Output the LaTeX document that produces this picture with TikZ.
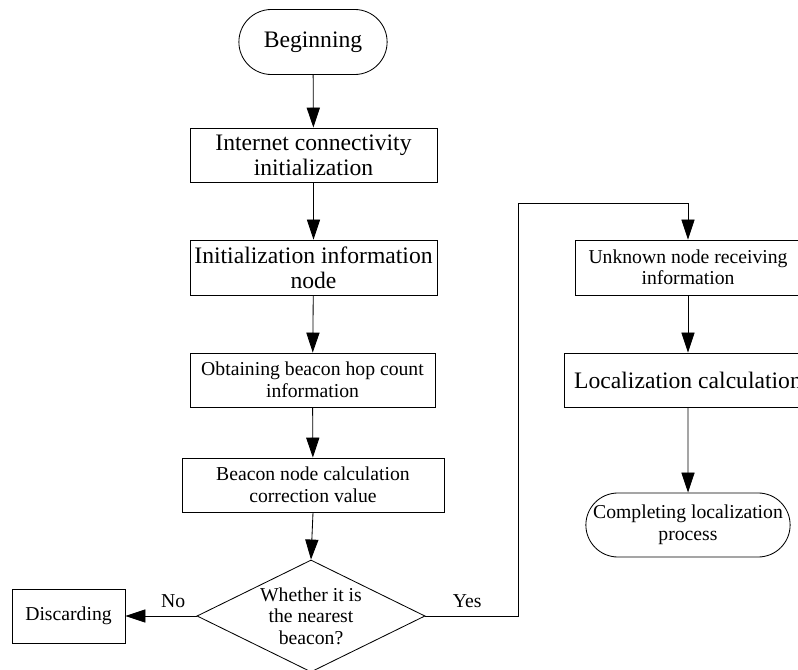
\documentclass[tikz,border=0pt]{standalone}
\usepackage{fontspec}
\setmainfont{Liberation Serif}
\usetikzlibrary{arrows.meta,shapes.geometric,shapes.misc}

\begin{document}
\begin{tikzpicture}[
  x=0.025cm, y=-0.025cm,
  line width=0.6pt,
  bigfont/.style={font=\fontsize{16.8pt}{17.8pt}\selectfont},
  smallfont/.style={font=\fontsize{14pt}{15.3pt}\selectfont},
  procbox/.style={draw, rectangle, align=center, inner sep=1pt},
  terminal/.style={draw, rounded rectangle, align=center, inner sep=1pt},
  decision/.style={draw, diamond, inner sep=0pt},
  flow/.style={-{Triangle[length=0.5cm,width=0.33cm]}},
  lbl/.style={smallfont, inner sep=0pt}
]
\useasboundingbox (0,0) rectangle (798,670);
\clip (0,0) rectangle (798,670);

% main column
\node[terminal, bigfont, minimum width=3.775cm, minimum height=1.625cm] (begin) at (313,42) {Beginning};
\node[procbox, bigfont, minimum width=6.175cm, minimum height=1.35cm] (b1) at (313.5,155) {Internet connectivity\\initialization};
\node[procbox, bigfont, minimum width=6.175cm, minimum height=1.375cm] (b2) at (313.5,267.5) {Initialization information\\node};
\node[procbox, smallfont, minimum width=6.125cm, minimum height=1.35cm] (b3) at (312.5,380) {Obtaining beacon hop count\\information};
\node[procbox, smallfont, minimum width=6.55cm, minimum height=1.35cm] (b4) at (313,485) {Beacon node calculation\\correction value};

% decision
\node[decision, minimum width=5.7cm, minimum height=2.8cm] (dia) at (311,616) {};
\node[lbl, align=center] (diatext) at (311,616) {Whether it is\\the nearest\\beacon?};

\node[procbox, smallfont, minimum width=2.825cm, minimum height=1.35cm] (disc) at (68.5,616) {Discarding};

% right column
\node[procbox, smallfont, minimum width=5.65cm, minimum height=1.375cm] (unk) at (688,267.5) {Unknown node receiving\\information};
\node[procbox, bigfont, minimum width=6.2cm, minimum height=1.35cm] (loc) at (688,380) {Localization calculation};
\node[terminal, smallfont, minimum width=5.175cm, minimum height=1.6cm] (comp) at (688,525) {Completing localization\\process};

% connectors
\coordinate (yesdown) at (518,616);
\coordinate (yesup) at (518,203);
\coordinate (yestop) at (688,203);

\draw[flow] (begin) -- (b1);
\draw[flow] (b1) -- (b2);
\draw[flow] (b2) -- (b3);
\draw[flow] (b3) -- (b4);
\draw[flow] (b4.south) -- (dia.north);
\draw[flow] (dia.west) -- node[lbl, pos=0.33, above=0.2cm] (no) {No} (disc.east);
\draw[flow] (dia.east) -- node[lbl, pos=0.45, above=0.2cm] (yes) {Yes} (yesdown) -- (yesup) -- (yestop) -- (unk.north);
\draw[flow] (unk) -- (loc);
\draw[flow] (loc) -- (comp);
\end{tikzpicture}
\end{document}
